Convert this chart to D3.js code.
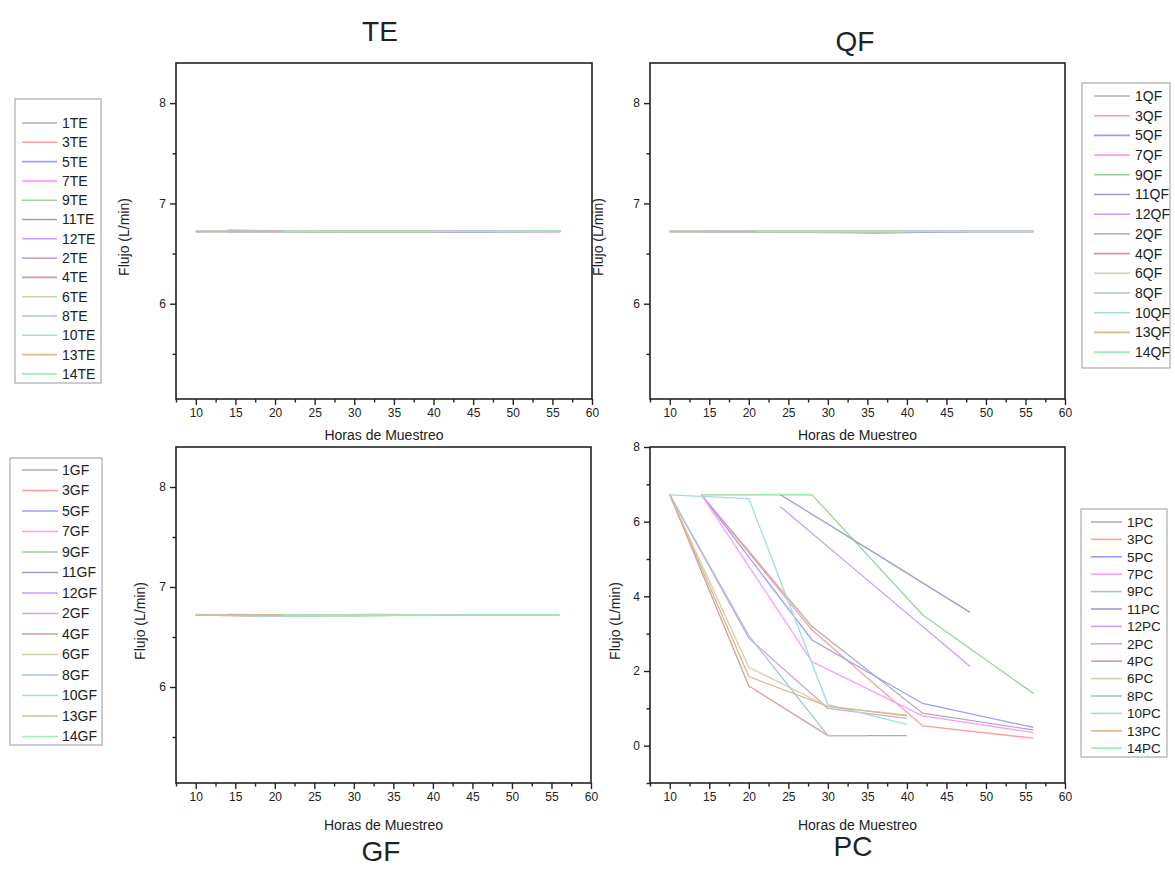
<!DOCTYPE html>
<html>
<head>
<meta charset="utf-8">
<script src="https://cdn.jsdelivr.net/npm/d3@7"></script>
<style>
  body { margin: 0; background: #fff; }
  text { font-family: Arial, "Liberation Sans", sans-serif; fill: #222; }
</style>
</head>
<body>
<svg id="chart" width="1175" height="884"></svg>
<script>
// series order as it appears in every legend
const seriesIds = ['1', '3', '5', '7', '9', '11', '12', '2', '4', '6', '8', '10', '13', '14']
const seriesColors = [
  '#b0b0b0', '#ff9c9c', '#9c9cff', '#ff9cff', '#9fd09f', '#9c9ccc', '#c99cff',
  '#d2a8d2', '#d09c9c', '#d2d2a6', '#a8c2e0', '#a0dede', '#d8b890', '#9aeeb0',
]

const xTicks = [10, 15, 20, 25, 30, 35, 40, 45, 50, 55, 60]

// Horas de muestreo / flujo por panel
const teHours = [
  [14, 28, 42, 56], [14, 28, 42, 56], [14, 28, 42, 56], [14, 28, 42, 56], [14, 28, 42, 56],
  [24, 36, 48], [24, 36, 48],
  [10, 20, 30, 40], [10, 20, 30, 40], [10, 20, 30, 40], [10, 20, 30, 40], [10, 20, 30, 40], [10, 20, 30, 40],
  [21, 28, 42, 56],
]
const teFlow = [
  [6.72, 6.72, 6.72, 6.72], [6.72, 6.725, 6.72, 6.72], [6.72, 6.72, 6.715, 6.72], [6.735, 6.72, 6.725, 6.72],
  [6.72, 6.72, 6.72, 6.725], [6.72, 6.715, 6.72], [6.725, 6.72, 6.72],
  [6.72, 6.725, 6.72, 6.72], [6.72, 6.72, 6.72, 6.72], [6.72, 6.72, 6.72, 6.72], [6.72, 6.72, 6.72, 6.72],
  [6.72, 6.72, 6.72, 6.72], [6.72, 6.72, 6.72, 6.72], [6.725, 6.72, 6.72, 6.725],
]

const qfHours = [
  [14, 28, 42, 56], [14, 28, 42, 56], [14, 28, 42, 56], [14, 28, 42, 56], [14, 28, 42, 56],
  [24, 36, 48], [24, 36, 48],
  [10, 20, 30, 40], [10, 20, 30, 40], [10, 20, 30, 40], [10, 20, 30, 40], [10, 20, 30, 40], [10, 20, 30, 40],
  [21, 28, 42, 56],
]
const qfFlow = [
  [6.72, 6.72, 6.72, 6.72], [6.72, 6.72, 6.72, 6.72], [6.72, 6.715, 6.72, 6.72], [6.725, 6.72, 6.72, 6.72],
  [6.72, 6.72, 6.72, 6.72], [6.72, 6.705, 6.72], [6.72, 6.715, 6.72],
  [6.72, 6.72, 6.715, 6.72], [6.72, 6.72, 6.71, 6.72], [6.72, 6.72, 6.72, 6.72], [6.72, 6.72, 6.715, 6.72],
  [6.72, 6.72, 6.72, 6.72], [6.72, 6.72, 6.72, 6.72], [6.72, 6.72, 6.72, 6.72],
]

const gfHours = [
  [14, 28, 42, 56], [14, 28, 42], [14, 28, 42], [14, 28, 42], [14, 28, 42, 56],
  [22, 33, 44], [22, 33, 44],
  [10, 20, 30, 40], [10, 20, 30, 40], [10, 20, 30, 40], [10, 20, 30, 40], [10, 20, 30, 40], [10, 20, 30, 40],
  [21, 28, 42, 56],
]
const gfFlow = [
  [6.72, 6.72, 6.72, 6.72], [6.725, 6.72, 6.72], [6.72, 6.715, 6.72], [6.725, 6.72, 6.72],
  [6.72, 6.72, 6.72, 6.72], [6.72, 6.72, 6.72], [6.72, 6.725, 6.72],
  [6.72, 6.71, 6.715, 6.72], [6.72, 6.715, 6.72, 6.72], [6.72, 6.71, 6.71, 6.72], [6.72, 6.71, 6.72, 6.72],
  [6.725, 6.71, 6.715, 6.72], [6.72, 6.72, 6.72, 6.72], [6.72, 6.72, 6.72, 6.72],
]

const pcHours = [
  [14, 28, 42, 56], [14, 28, 42, 56], [14, 28, 42, 56], [14, 28, 42, 56], [14, 28, 42, 56],
  [24, 36, 48], [24, 36, 48],
  [10, 20, 30, 40], [10, 20, 30, 40], [10, 20, 30, 40], [10, 20, 30, 35], [10, 20, 30, 40], [10, 20, 30, 40],
  [21, 28],
]
const pcFlow = [
  [6.72, 3.19, 0.87, 0.42], [6.72, 3.1, 0.53, 0.2], [6.72, 2.83, 1.13, 0.49], [6.72, 2.25, 0.8, 0.35],
  [6.72, 6.72, 3.5, 1.4], [6.72, 5.15, 3.57], [6.4, 4.26, 2.12],
  [6.72, 2.88, 1.0, 0.73], [6.72, 1.6, 0.27, 0.27], [6.72, 2.1, 1.05, 0.82], [6.72, 2.95, 0.27, 0.27],
  [6.72, 6.62, 1.1, 0.57], [6.72, 1.85, 1.05, 0.8], [6.73, 6.73],
]

const svg = d3.select('#chart')

const panels = [
  {
    name: 'TE', hours: teHours, flow: teFlow,
    box: {left: 176, top: 63, right: 592, bottom: 399},
    yDomain: [5.05, 8.4], yMajor: [6, 7, 8], yMinor: [5.5, 6.5, 7.5],
    title: {x: 380, y: 41}, xTitleY: 440, yTitleX: 129,
    legend: {x: 15, y: 99, w: 86, h: 284, first: 123, step: 19.3, x1: 22, x2: 57, tx: 62, size: 14},
  },
  {
    name: 'QF', hours: qfHours, flow: qfFlow,
    box: {left: 650, top: 63, right: 1065, bottom: 399},
    yDomain: [5.05, 8.4], yMajor: [6, 7, 8], yMinor: [5.5, 6.5, 7.5],
    title: {x: 855, y: 51}, xTitleY: 440, yTitleX: 603,
    legend: {x: 1082, y: 83, w: 88, h: 285, first: 96, step: 19.7, x1: 1094, x2: 1130, tx: 1135, size: 14},
  },
  {
    name: 'GF', hours: gfHours, flow: gfFlow,
    box: {left: 176, top: 447, right: 591, bottom: 783},
    yDomain: [5.04, 8.4], yMajor: [6, 7, 8], yMinor: [5.5, 6.5, 7.5],
    title: {x: 381, y: 861}, xTitleY: 830, yTitleX: 145,
    legend: {x: 10, y: 458, w: 92, h: 287, first: 470, step: 20.5, x1: 22, x2: 58, tx: 62, size: 14},
  },
  {
    name: 'PC', hours: pcHours, flow: pcFlow,
    box: {left: 650, top: 447, right: 1065, bottom: 783},
    yDomain: [-1, 8], yMajor: [0, 2, 4, 6, 8], yMinor: [-1, 1, 3, 5, 7],
    title: {x: 853, y: 856}, xTitleY: 830, yTitleX: 620,
    legend: {x: 1081, y: 509, w: 86, h: 248, first: 522, step: 17.4, x1: 1091, x2: 1122, tx: 1127, size: 13.5},
  },
]

const drawPanel = p => {
  const {box} = p
  const x = d3.scaleLinear().domain([7.5, 60]).range([box.left, box.right])
  const y = d3.scaleLinear().domain(p.yDomain).range([box.bottom, box.top])

  const g = svg.append('g')

  // minor ticks
  g.append('g')
    .attr('transform', `translate(0,${box.bottom})`)
    .call(d3.axisBottom(x).tickValues(xTicks.map(v => v - 2.5)).tickSize(3.5).tickFormat(''))
    .call(a => a.select('.domain').remove())
  g.append('g')
    .attr('transform', `translate(${box.left},0)`)
    .call(d3.axisLeft(y).tickValues(p.yMinor).tickSize(3.5).tickFormat(''))
    .call(a => a.select('.domain').remove())

  // major ticks
  g.append('g')
    .attr('transform', `translate(0,${box.bottom})`)
    .call(d3.axisBottom(x).tickValues(xTicks).tickSize(6).tickSizeOuter(0).tickPadding(3))
    .call(a => a.select('.domain').remove())
    .selectAll('text').attr('font-size', 12).attr('fill', '#222')
  g.append('g')
    .attr('transform', `translate(${box.left},0)`)
    .call(d3.axisLeft(y).tickValues(p.yMajor).tickSize(6).tickSizeOuter(0).tickPadding(4).tickFormat(d3.format('d')))
    .call(a => a.select('.domain').remove())
    .selectAll('text').attr('font-size', 12).attr('fill', '#222')

  g.selectAll('.tick line').attr('stroke', '#222').attr('stroke-width', 1.4)

  // series
  const line = d3.line().x(d => x(d[0])).y(d => y(d[1]))
  g.append('g')
    .selectAll('path')
    .data(p.hours.map((hrs, i) => hrs.map((h, j) => [h, p.flow[i][j]])))
    .join('path')
    .attr('d', line)
    .attr('fill', 'none')
    .attr('stroke', (d, i) => seriesColors[i])
    .attr('stroke-width', 1.3)

  // frame
  g.append('rect')
    .attr('x', box.left).attr('y', box.top)
    .attr('width', box.right - box.left).attr('height', box.bottom - box.top)
    .attr('fill', 'none').attr('stroke', '#222').attr('stroke-width', 1.6)

  // texts
  g.append('text')
    .attr('x', (box.left + box.right) / 2).attr('y', p.xTitleY)
    .attr('text-anchor', 'middle').attr('font-size', 14)
    .text('Horas de Muestreo')
  g.append('text')
    .attr('transform', `translate(${p.yTitleX},${(box.top + box.bottom) / 2 + 6}) rotate(-90)`)
    .attr('text-anchor', 'middle').attr('font-size', 14)
    .text('Flujo (L/min)')
  g.append('text')
    .attr('x', p.title.x).attr('y', p.title.y)
    .attr('text-anchor', 'middle').attr('font-size', 28)
    .text(p.name)

  // legend
  const L = p.legend
  const lg = g.append('g')
  lg.append('rect')
    .attr('x', L.x).attr('y', L.y).attr('width', L.w).attr('height', L.h)
    .attr('fill', '#fff').attr('stroke', '#999').attr('stroke-width', 1)
  const rows = lg.selectAll('g.row')
    .data(seriesIds)
    .join('g')
    .attr('class', 'row')
    .attr('transform', (d, i) => `translate(0,${L.first + i * L.step})`)
  rows.append('line')
    .attr('x1', L.x1).attr('x2', L.x2)
    .attr('stroke', (d, i) => seriesColors[i]).attr('stroke-width', 1.6)
  rows.append('text')
    .attr('x', L.tx).attr('dy', '0.35em')
    .attr('font-size', L.size)
    .text(d => d + p.name)
}

panels.forEach(drawPanel)
</script>
</body>
</html>
